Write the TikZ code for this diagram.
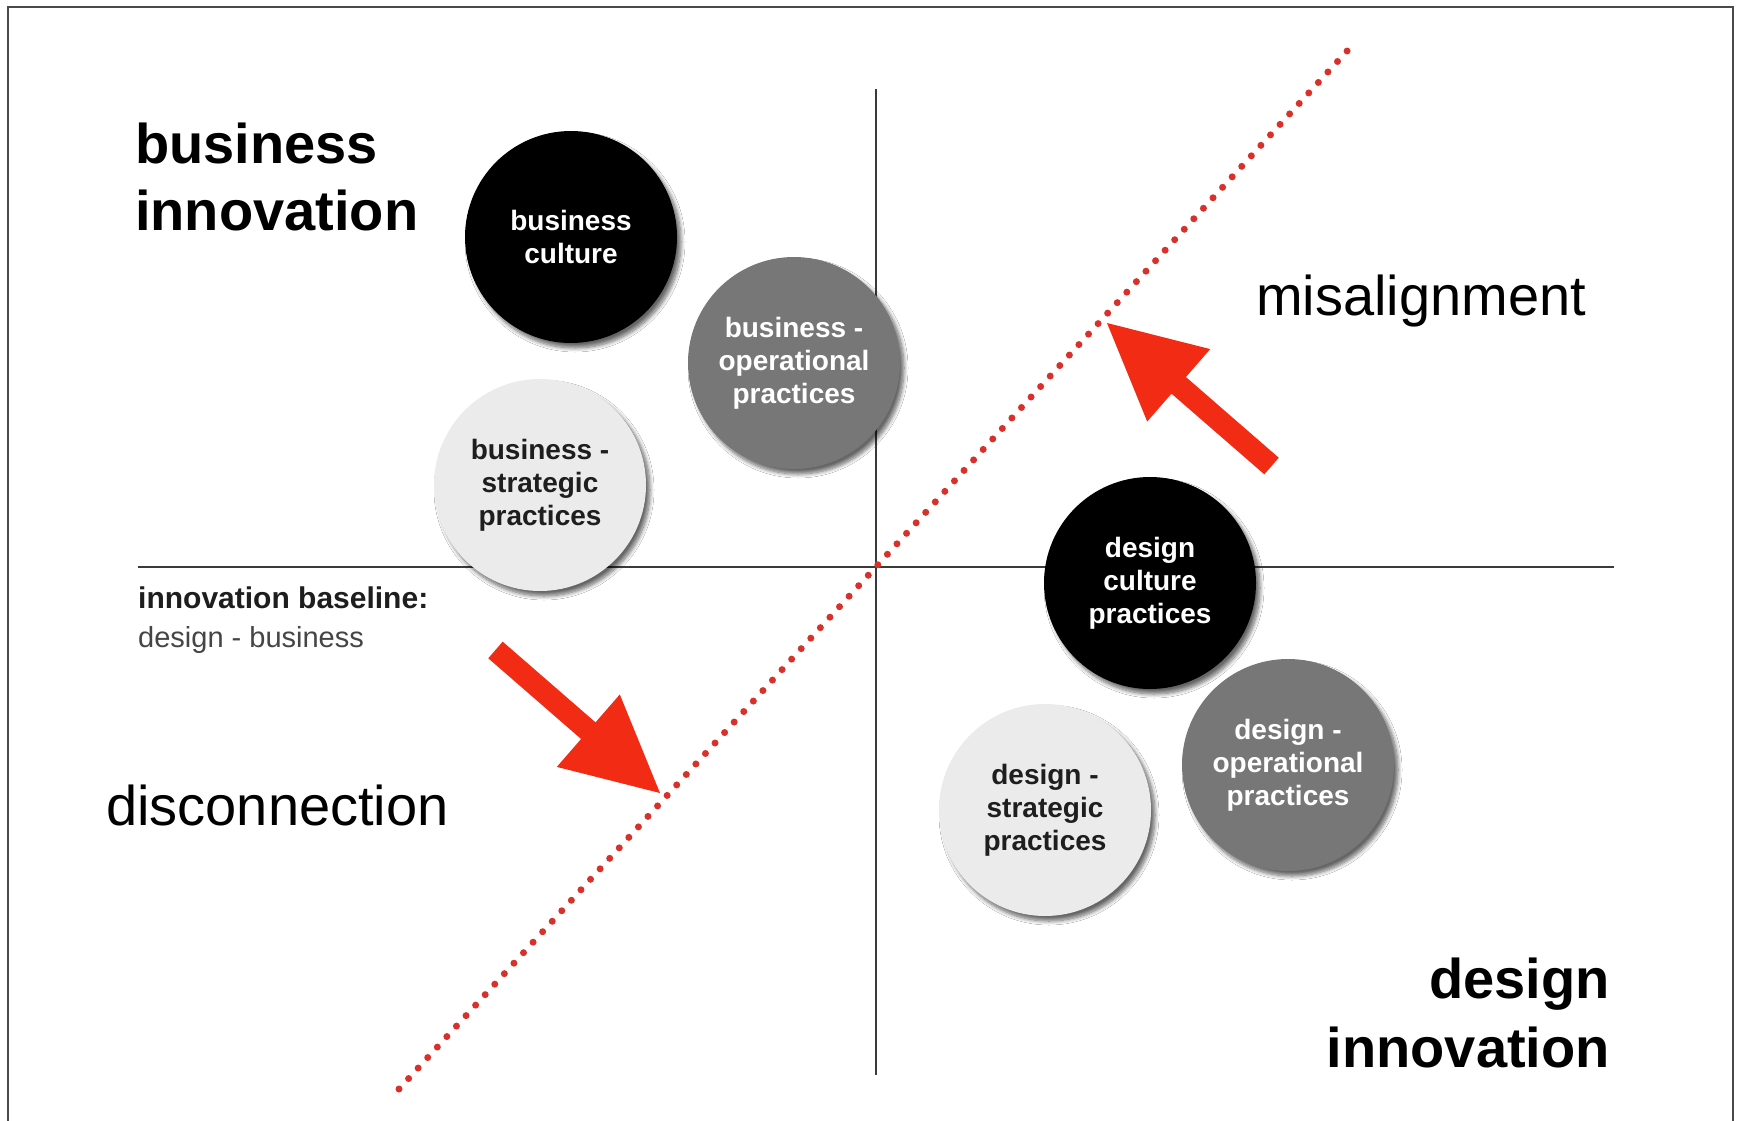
\documentclass[tikz,border=0pt]{standalone}
\usepackage{fontspec}
\setmainfont{Liberation Sans}
\usetikzlibrary{shadows.blur}
\definecolor{axisgray}{HTML}{3A3A3A}
\definecolor{framegray}{HTML}{4A4A4A}
\definecolor{dotred}{HTML}{D8312C}
\definecolor{arrred}{HTML}{F22B14}
\definecolor{midgray}{HTML}{777777}
\definecolor{lightgray}{HTML}{EBEBEB}
\definecolor{txtdark}{HTML}{1E1E1E}
\definecolor{subgray}{HTML}{454545}
\tikzset{
  bubble/.style={circle, minimum size=212pt, inner sep=0pt, align=center,
    font=\fontsize{28}{33}\selectfont\bfseries,
    blur shadow={shadow xshift=4pt, shadow yshift=-5pt, shadow blur radius=4pt, shadow blur steps=8, shadow opacity=60}},
  darkbubble/.style={bubble, fill=black, text=white},
  graybubble/.style={bubble, fill=midgray, text=white},
  lightbubble/.style={bubble, fill=lightgray, text=txtdark},
  bigbold/.style={inner sep=0pt, font=\fontsize{56}{68}\selectfont\bfseries, text=black},
  bigreg/.style={inner sep=0pt, font=\fontsize{56}{68}\selectfont, text=black},
  axisline/.style={draw=axisgray, line width=2pt},
  dotline/.style={draw=dotred, line width=7pt, line cap=round, dash pattern=on 0pt off 14.2pt},
  blockarrow/.style={fill=arrred}
}
\begin{document}
\begin{tikzpicture}[x=1pt, y=-1pt]
\useasboundingbox (0,0) rectangle (1737,1121);
\fill[white] (0,0) rectangle (1737,1121);
% frame (left, top, right)
\draw[framegray, line width=2pt] (7.5,1121) -- (7.5,7.5) -- (1733,7.5) -- (1733,1121);

% axes
\coordinate (hl) at (138,567);
\coordinate (hr) at (1614,567);
\coordinate (vt) at (876,89);
\coordinate (vb) at (876,1075);
\draw[axisline] (hl) -- (hr);
\draw[axisline] (vt) -- (vb);

% red dotted line
\coordinate (rtop) at (1348,50);
\coordinate (rbot) at (399,1089);
\draw[dotline] (rbot) -- (rtop);

% bubbles
\node[darkbubble]  (bc)  at (571,237) {business\\culture};
\node[graybubble]  (bop) at (794,363) {business -\\operational\\practices};
\node[lightbubble] (bst) at (540,485) {business -\\strategic\\practices};
\node[darkbubble]  (dc)  at (1150,583) {design\\culture\\practices};
\node[graybubble]  (dop) at (1288,765) {design -\\operational\\practices};
\node[lightbubble] (dst) at (1045,810) {design -\\strategic\\practices};

% labels
\node[bigbold, anchor=base west] (bi1) at (135,163) {business};
\node[bigbold, anchor=base west] (bi2) at (135,230) {innovation};
\node[bigbold, anchor=base east] (di1) at (1610,998) {design};
\node[bigbold, anchor=base east] (di2) at (1610,1067) {innovation};
\node[bigreg, anchor=base west] (mis) at (1256,315) {misalignment};
\node[bigreg, anchor=base west] (dis) at (106,825) {disconnection};
\node[inner sep=0pt, anchor=base west, font=\fontsize{30}{36}\selectfont\bfseries, text=txtdark] (ib1) at (138,608) {innovation baseline:};
\node[inner sep=0pt, anchor=base west, font=\fontsize{29}{35}\selectfont, text=subgray] (ib2) at (138,647) {design - business};

% block arrows
\begin{scope}[shift={(1107,323)}, rotate=139]
  \fill[blockarrow] (0,0) -- (-95,48) -- (-95,11) -- (-218,11) -- (-218,-11) -- (-95,-11) -- (-95,-48) -- cycle;
\end{scope}
\begin{scope}[shift={(660,793)}, rotate=-41]
  \fill[blockarrow] (0,0) -- (-95,48) -- (-95,11) -- (-218,11) -- (-218,-11) -- (-95,-11) -- (-95,-48) -- cycle;
\end{scope}
\end{tikzpicture}
\end{document}
